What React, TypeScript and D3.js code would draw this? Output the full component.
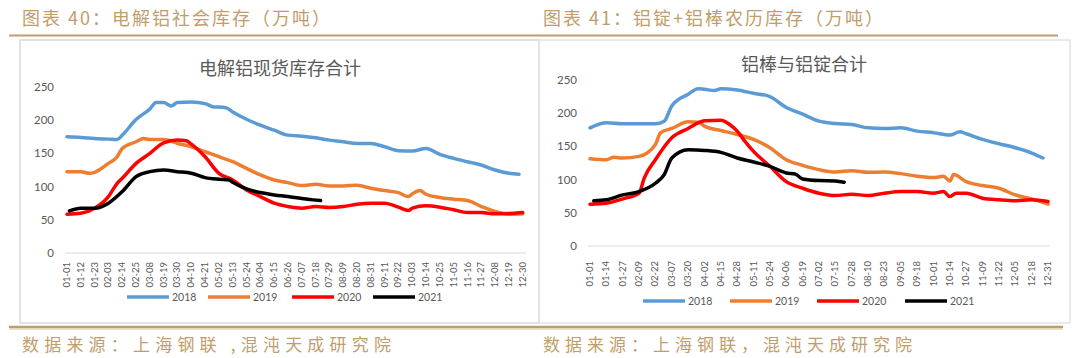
import React from "react";
import * as d3 from "d3";

const width = 1080;
const height = 358;

// every day of a 365-day year, used as the category axis
const days = d3.timeDay
  .range(new Date(2021, 0, 1), new Date(2022, 0, 1))
  .map(d3.timeFormat("%m-%d"));

const yTicks = [0, 50, 100, 150, 200, 250];
const years = ["2018", "2019", "2020", "2021"];
const colors = ["#5b9bd5", "#ed7d31", "#ff0000", "#000000"];

const leftTicks = [
  "01-01", "01-12", "01-23", "02-03", "02-14", "02-25", "03-08", "03-19", "03-30",
  "04-10", "04-21", "05-02", "05-13", "05-24", "06-04", "06-15", "06-26", "07-07",
  "07-18", "07-29", "08-09", "08-20", "08-31", "09-11", "09-22", "10-03", "10-14",
  "10-25", "11-05", "11-16", "11-27", "12-08", "12-19", "12-30",
];

const rightTicks = [
  "01-01", "01-14", "01-27", "02-09", "02-22", "03-07", "03-20", "04-02", "04-15",
  "04-28", "05-11", "05-24", "06-06", "06-19", "07-02", "07-15", "07-28", "08-10",
  "08-23", "09-05", "09-18", "10-01", "10-14", "10-27", "11-09", "11-22", "12-05",
  "12-18", "12-31",
];

type Pt = [string, number];

// 电解铝现货库存合计
const left2018: Pt[] = [
  ["01-01", 175], ["01-12", 174], ["01-23", 172.5], ["02-03", 171.5], ["02-10", 171],
  ["02-14", 177.5], ["02-25", 201], ["03-08", 217], ["03-13", 226.5], ["03-19", 226.5],
  ["03-25", 221.5], ["03-30", 226.5], ["04-10", 227.5], ["04-21", 225], ["04-28", 220],
  ["05-02", 220], ["05-08", 218.5], ["05-13", 212.5], ["05-24", 201.5], ["06-04", 192.5],
  ["06-15", 185], ["06-26", 177.5], ["07-07", 176], ["07-18", 173.5], ["07-29", 170],
  ["08-09", 167.5], ["08-20", 165], ["08-31", 165], ["09-11", 160], ["09-22", 154],
  ["10-03", 153.5], ["10-14", 157.5], ["10-25", 148.5], ["11-05", 142.5], ["11-16", 137.5],
  ["11-27", 132.5], ["12-08", 125], ["12-19", 120], ["12-27", 118.5],
];
const left2019: Pt[] = [
  ["01-01", 122.5], ["01-12", 122.5], ["01-19", 120], ["01-23", 121.5], ["02-03", 135],
  ["02-10", 145], ["02-14", 157.5], ["02-25", 167.5], ["03-03", 172.5], ["03-08", 171],
  ["03-19", 171], ["03-30", 165], ["04-10", 160], ["04-21", 152.5], ["05-02", 145],
  ["05-13", 137.5], ["05-24", 127.5], ["06-04", 117.5], ["06-15", 110], ["06-26", 106],
  ["07-07", 101.5], ["07-18", 103.5], ["07-29", 101], ["08-09", 101], ["08-20", 102],
  ["08-31", 97.5], ["09-11", 94], ["09-22", 91], ["09-30", 85], ["10-03", 89],
  ["10-09", 94], ["10-14", 88.5], ["10-25", 83.5], ["11-05", 81], ["11-16", 79],
  ["11-27", 70], ["12-08", 62.5], ["12-19", 58.5], ["12-30", 59],
];
const left2020: Pt[] = [
  ["01-01", 58.5], ["01-12", 60], ["01-23", 67.5], ["02-03", 85], ["02-10", 105],
  ["02-14", 112.5], ["02-25", 135], ["03-08", 150], ["03-19", 166], ["03-30", 170],
  ["04-06", 169], ["04-10", 164], ["04-21", 145], ["05-02", 120], ["05-13", 110],
  ["05-24", 95], ["06-04", 85], ["06-15", 75], ["06-26", 70], ["07-07", 67.5],
  ["07-18", 70], ["07-29", 68.5], ["08-09", 70], ["08-20", 73.5], ["08-31", 75],
  ["09-11", 75], ["09-22", 69], ["09-30", 64], ["10-03", 67.5], ["10-14", 71],
  ["10-25", 69], ["11-05", 65], ["11-16", 61], ["11-27", 61], ["12-08", 59],
  ["12-19", 59.5], ["12-30", 61],
];
const left2021: Pt[] = [
  ["01-03", 63.5], ["01-12", 67.5], ["01-23", 67.5], ["02-03", 75], ["02-14", 92.5],
  ["02-25", 115], ["03-08", 122.5], ["03-19", 125], ["03-30", 122.5], ["04-10", 120],
  ["04-21", 113.5], ["05-02", 111], ["05-10", 110], ["05-13", 106.5], ["05-24", 96.5],
  ["06-04", 91], ["06-15", 87.5], ["06-26", 85], ["07-07", 82], ["07-16", 80],
  ["07-22", 79],
];

// 铝棒与铝锭合计
const right2018: Pt[] = [
  ["01-01", 178], ["01-14", 185.5], ["01-27", 184], ["02-09", 184], ["02-22", 184],
  ["03-01", 188], ["03-07", 211], ["03-20", 228.5], ["03-28", 237], ["04-02", 236],
  ["04-10", 234], ["04-15", 237], ["04-28", 235], ["05-11", 230], ["05-24", 225],
  ["06-06", 208.5], ["06-19", 198.5], ["07-02", 188], ["07-15", 184.5], ["07-28", 183],
  ["08-10", 178], ["08-23", 177], ["09-05", 178], ["09-18", 173], ["10-01", 170.5],
  ["10-14", 167], ["10-22", 172], ["10-27", 169], ["11-09", 160.5], ["11-22", 154],
  ["12-05", 148], ["12-18", 140], ["12-27", 132.5],
];
const right2019: Pt[] = [
  ["01-01", 131.5], ["01-14", 130], ["01-20", 133.5], ["01-27", 132.5], ["02-09", 135],
  ["02-22", 153], ["02-26", 170.5], ["03-07", 177], ["03-20", 187], ["03-28", 186.5],
  ["04-02", 180.5], ["04-15", 174], ["04-28", 168], ["05-11", 160.5], ["05-24", 148],
  ["06-06", 130], ["06-19", 121.5], ["07-02", 115], ["07-15", 111.5], ["07-28", 113.5],
  ["08-10", 111], ["08-23", 111.5], ["09-05", 109], ["09-18", 105], ["10-01", 103],
  ["10-09", 105], ["10-14", 98], ["10-17", 107.5], ["10-27", 97], ["11-09", 91],
  ["11-22", 87], ["12-05", 77], ["12-18", 71], ["12-31", 63],
];
const right2020: Pt[] = [
  ["01-01", 63], ["01-14", 64.5], ["01-27", 71], ["02-09", 79.5], ["02-13", 102],
  ["02-22", 130], ["03-07", 163], ["03-20", 177], ["04-02", 188.5], ["04-15", 189.5],
  ["04-22", 183], ["04-28", 173], ["05-04", 158], ["05-11", 142.5], ["05-24", 120],
  ["06-06", 97], ["06-19", 87], ["07-02", 79.5], ["07-15", 76], ["07-28", 78],
  ["08-10", 76], ["08-23", 79.5], ["09-05", 82], ["09-18", 82], ["10-01", 79.5],
  ["10-09", 82], ["10-14", 74.5], ["10-19", 79.5], ["10-27", 79.5], ["11-09", 72],
  ["11-22", 69.5], ["12-05", 68], ["12-18", 69.5], ["12-31", 67],
];
const right2021: Pt[] = [
  ["01-04", 68], ["01-14", 69.5], ["01-27", 77], ["02-09", 82], ["02-22", 94.5],
  ["03-01", 107.5], ["03-07", 132.5], ["03-20", 145], ["04-02", 144], ["04-15", 141],
  ["04-28", 132.5], ["05-11", 126.5], ["05-24", 120], ["06-06", 110], ["06-13", 108.5],
  ["06-19", 101], ["07-02", 98.5], ["07-15", 98], ["07-22", 96],
];

const gold = "#bf9e6b";
const grey = "#595959";
const numFont = "Lato, 'Noto Sans CJK SC', sans-serif";
const cjkFont = "'Noto Sans CJK SC', sans-serif";

function Panel({ title, titleX, titleY, x0, x1, y0, y250, ticks, series, labelTop, legendY, legendX }) {
  const x = d3.scalePoint<string>().domain(days).range([x0, x1]);
  const y = d3.scaleLinear().domain([0, 250]).range([y0, y250]);
  const line = d3
    .line<Pt>()
    .x((d) => x(d[0]) as number)
    .y((d) => y(d[1]))
    .curve(d3.curveMonotoneX);

  return (
    <g>
      <text x={titleX} y={titleY} textAnchor="middle" fontSize={18} fill={grey} fontFamily={cjkFont}>
        {title}
      </text>
      <line x1={x0 - 2} x2={x1 + 2} y1={y0} y2={y0} stroke="#d9d9d9" strokeWidth={1} />
      {yTicks.map((t) => (
        <text key={t} x={x0 - 13} y={y(t) + 4} textAnchor="end" fontSize={11.5} fill={grey} fontFamily={numFont}>
          {t}
        </text>
      ))}
      {ticks.map((t) => (
        <text
          key={t}
          transform={`translate(${(x(t) as number) + 3},${labelTop}) rotate(-90)`}
          textAnchor="end"
          fontSize={9.5}
          fill={grey}
          fontFamily={numFont}
        >
          {t}
        </text>
      ))}
      {series.map((s, i) => (
        <path
          key={years[i]}
          d={line(s) as string}
          fill="none"
          stroke={colors[i]}
          strokeWidth={3.5}
          strokeLinejoin="round"
          strokeLinecap="round"
        />
      ))}
      {years.map((yr, i) => (
        <g key={yr}>
          <line x1={legendX[i]} x2={legendX[i] + 42} y1={legendY} y2={legendY} stroke={colors[i]} strokeWidth={3.5} />
          <text x={legendX[i] + 45} y={legendY + 4} fontSize={10.5} fill={grey} fontFamily={numFont}>
            {yr}
          </text>
        </g>
      ))}
    </g>
  );
}

export default function App() {
  return (
    <svg width={width} height={height} style={{ position: "absolute", left: 0, top: 0, background: "#fff" }}>
      <text x={22} y={25} fontSize={18} letterSpacing={2} fill={gold} fontFamily={cjkFont}>
        图表 40：电解铝社会库存（万吨）
      </text>
      <text x={543} y={25} fontSize={18} letterSpacing={2} fill={gold} fontFamily={cjkFont}>
        图表 41：铝锭+铝棒农历库存（万吨）
      </text>
      <line x1={9} x2={1058} y1={35.5} y2={35.5} stroke={gold} strokeWidth={2} />

      <rect x={20} y={40} width={519} height={283} fill="none" stroke="#d9d9d9" strokeWidth={1.5} />
      <rect x={539} y={40} width={531} height={283} fill="none" stroke="#e3e3e3" strokeWidth={1.5} />

      <Panel
        title="电解铝现货库存合计"
        titleX={280}
        titleY={74.5}
        x0={67}
        x1={524}
        y0={253}
        y250={87}
        ticks={leftTicks}
        series={[left2018, left2019, left2020, left2021]}
        labelTop={262}
        legendY={297}
        legendX={[127, 208, 292, 373]}
      />
      <Panel
        title="铝棒与铝锭合计"
        titleX={804}
        titleY={71}
        x0={590}
        x1={1048}
        y0={246}
        y250={80}
        ticks={rightTicks}
        series={[right2018, right2019, right2020, right2021]}
        labelTop={261}
        legendY={301}
        legendX={[643, 730, 817, 905]}
      />

      <line x1={9} x2={1063} y1={327} y2={327} stroke={gold} strokeWidth={2.5} />
      <line x1={9} x2={1063} y1={329} y2={329} stroke="#d8c7a6" strokeWidth={1} />
      <text x={22} y={351} fontSize={17} letterSpacing={5.2} fill={gold} fontFamily={cjkFont}>
        数据来源：上海钢联 ,混沌天成研究院
      </text>
      <text x={543} y={351} fontSize={17} letterSpacing={5} fill={gold} fontFamily={cjkFont}>
        数据来源：上海钢联，混沌天成研究院
      </text>
    </svg>
  );
}
